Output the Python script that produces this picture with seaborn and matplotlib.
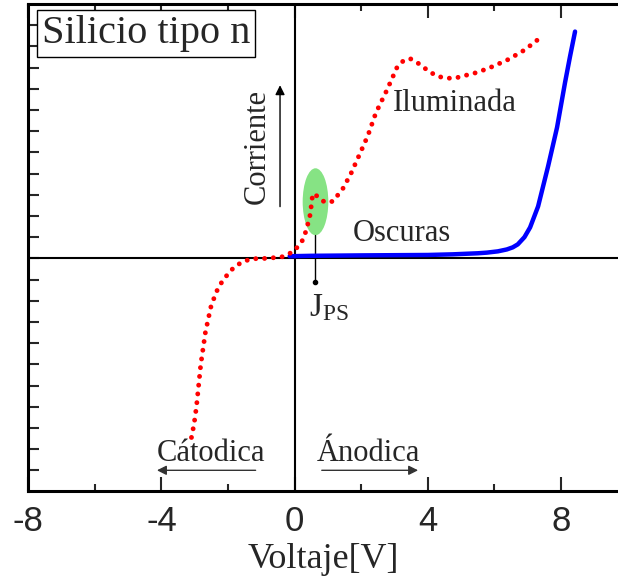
import matplotlib
matplotlib.use("Agg")
import matplotlib.pyplot as plt
import seaborn as sns
import pandas as pd
from matplotlib.patches import Ellipse

# ---- data ----
ilum_x = [-3.10, -3.02, -2.95, -2.82, -2.68, -2.52, -2.36, -2.20, -1.97, -1.79, -1.55, -1.28,
          -0.80, -0.35, -0.09, 0.06, 0.24, 0.34, 0.40, 0.46, 0.50, 0.53, 0.58, 0.66, 0.76,
          0.92, 1.15, 1.45, 1.69, 1.99, 2.20, 2.44, 2.77, 3.07, 3.25, 3.46, 3.67, 3.88,
          4.06, 4.27, 4.54, 4.81, 5.05, 5.50, 5.96, 6.41, 6.85, 7.25, 7.43]
ilum_y = [-8.45, -7.80, -7.00, -5.00, -3.48, -2.31, -1.60, -1.15, -0.66, -0.38, -0.15, -0.02,
          0.00, 0.08, 0.28, 0.49, 0.86, 1.29, 1.65, 2.03, 2.50, 2.90, 3.07, 2.95, 2.80,
          2.64, 2.69, 3.30, 4.00, 5.05, 5.80, 6.87, 7.94, 9.00, 9.30, 9.43, 9.25, 9.00,
          8.80, 8.60, 8.50, 8.50, 8.60, 8.78, 9.06, 9.38, 9.78, 10.24, 10.57]

osc_x = [-0.15, 0.50, 2.00, 4.00, 4.75, 5.50, 5.77, 6.10, 6.37, 6.55, 6.70, 6.90,
         7.07, 7.31, 7.61, 7.88, 8.12, 8.27, 8.42]
osc_y = [0.10, 0.12, 0.14, 0.16, 0.19, 0.24, 0.27, 0.33, 0.42, 0.52, 0.66, 1.00,
         1.46, 2.45, 4.34, 6.18, 8.30, 9.53, 10.70]

x_major = [-8, -4, 0, 4, 8]
x_minor = [-6, -2, 2, 6]
y_ticks = list(range(-10, 12))

df_ilum = pd.DataFrame({"V": ilum_x, "I": ilum_y})
df_osc = pd.DataFrame({"V": osc_x, "I": osc_y})

sns.set_style("ticks")
plt.rcParams["font.family"] = ["Liberation Serif", "DejaVu Serif"]
plt.rcParams["mathtext.fontset"] = "custom"
plt.rcParams["mathtext.rm"] = "Liberation Serif"
plt.rcParams["mathtext.it"] = "Liberation Serif:italic"

fig = plt.figure(figsize=(6.18, 5.82), dpi=100)
ax = fig.add_axes([0.0458, 0.1555, 0.9542, 0.8376])

ax.set_xlim(-8, 9.71)
ax.set_ylim(-11, 12)

# reference axes through origin
ax.axhline(0, color="black", lw=1.5, zorder=1)
ax.axvline(0, color="black", lw=1.5, zorder=1)

# green ellipse marking J_PS
ax.add_patch(Ellipse((0.625, 2.67), 0.77, 3.16, facecolor="#86E384", edgecolor="none", zorder=2))
ax.plot([0.625, 0.625], [1.09, -1.13], color="black", lw=1.0, zorder=2)
ax.plot([0.625], [-1.13], marker="o", ms=3, color="black", zorder=2)

sns.lineplot(data=df_osc, x="V", y="I", sort=False, ax=ax, color="#0000FF",
             lw=3.2, zorder=3, estimator=None)
sns.lineplot(data=df_ilum, x="V", y="I", sort=False, ax=ax, color="#FF0000",
             lw=3.5, zorder=4, estimator=None)
red = ax.lines[-1]
red.set_dashes((0.01, 1.8))
red.set_dash_capstyle("round")

# axes styling
ax.set_xticks(x_major)
ax.set_xticks(x_minor, minor=True)
ax.set_xticklabels([str(v) for v in x_major], fontfamily="Liberation Sans", fontsize=25)
ax.set_yticks(y_ticks)
ax.set_yticklabels([])
ax.tick_params(axis="x", which="major", direction="in", length=10, width=1.5, top=True, pad=10)
ax.tick_params(axis="x", which="minor", direction="in", length=5, width=1.5, top=True)
ax.tick_params(axis="y", which="major", direction="in", length=8, width=1.5, left=True)
ax.set_xlabel("Voltaje[V]", fontsize=26, labelpad=3)
ax.set_ylabel("")
for s in ["left", "top", "bottom"]:
    ax.spines[s].set_linewidth(2.2)
    ax.spines[s].set_color("black")
ax.spines["right"].set_visible(False)

# annotations
ax.text(-7.6, 10.6, "Silicio tipo n", fontsize=29, ha="left", va="center",
        bbox=dict(boxstyle="square,pad=0.12", fc="white", ec="black", lw=1.0), zorder=5)
ax.text(-1.13, 5.28, "Corriente", fontsize=22, rotation=90, ha="center", va="center")
ax.annotate("", xy=(-0.44, 8.3), xytext=(-0.44, 2.31),
            arrowprops=dict(arrowstyle="-|>", color="black", lw=1.0, mutation_scale=14))
ax.text(4.81, 7.3, "Iluminada", fontsize=22, ha="center", va="center")
ax.text(3.23, 1.15, "Oscuras", fontsize=22, ha="center", va="center")
ax.text(0.42, -1.6, r"J$_{\mathrm{PS}}$", fontsize=24, ha="left", va="top")
ax.text(-2.51, -9.2, "Cátodica", fontsize=22, ha="center", va="center")
ax.annotate("", xy=(-4.22, -10.0), xytext=(-1.09, -10.0),
            arrowprops=dict(arrowstyle="-|>", color="#333333", lw=1.0, mutation_scale=14))
ax.text(2.22, -9.2, "Ánodica", fontsize=22, ha="center", va="center")
ax.annotate("", xy=(3.79, -10.0), xytext=(0.73, -10.0),
            arrowprops=dict(arrowstyle="-|>", color="#333333", lw=1.0, mutation_scale=14))

fig.savefig("out.png", dpi=100)
